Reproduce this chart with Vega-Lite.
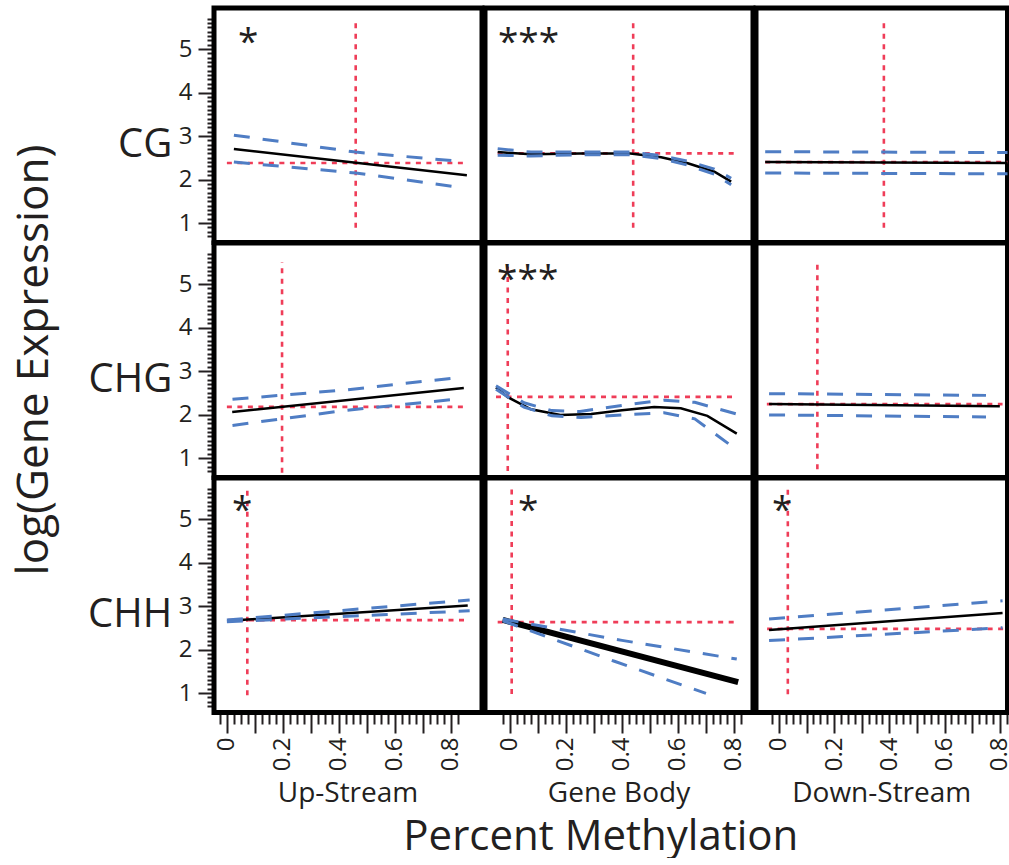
{
  "$schema": "https://vega.github.io/schema/vega-lite/v6.json",
  "padding": {"left": 12, "top": 5, "right": 0, "bottom": 0},
  "autosize": {"type": "pad"},
  "background": "white",
  "config": {
    "font": "Open Sans",
    "view": {"stroke": "black", "strokeWidth": 5},
    "facet": {"spacing": 0},
    "header": {"labelColor": "#231f20", "titleColor": "#231f20", "labelFont": "Open Sans", "titleFont": "Open Sans"},
    "axis": {"labelColor": "#231f20", "tickColor": "#231f20", "labelFont": "Open Sans", "grid": false}
  },
  "title": {"text": "Percent Methylation", "orient": "bottom", "anchor": "middle", "fontSize": 42, "fontWeight": "normal", "font": "Open Sans", "color": "#231f20", "offset": 9, "dx": 85},
  "spacing": -5,
  "datasets": {
    "d": [
      {"region": "Up-Stream", "ctx": "CG", "kind": "fit", "series": "fit", "x": 0.025, "y": 2.70},
      {"region": "Up-Stream", "ctx": "CG", "kind": "fit", "series": "fit", "x": 0.857, "y": 2.10},
      {"region": "Up-Stream", "ctx": "CG", "kind": "ci", "series": "upper", "x": 0.025, "y": 3.02},
      {"region": "Up-Stream", "ctx": "CG", "kind": "ci", "series": "upper", "x": 0.46, "y": 2.63},
      {"region": "Up-Stream", "ctx": "CG", "kind": "ci", "series": "upper", "x": 0.81, "y": 2.43},
      {"region": "Up-Stream", "ctx": "CG", "kind": "ci", "series": "lower", "x": 0.025, "y": 2.40},
      {"region": "Up-Stream", "ctx": "CG", "kind": "ci", "series": "lower", "x": 0.46, "y": 2.15},
      {"region": "Up-Stream", "ctx": "CG", "kind": "ci", "series": "lower", "x": 0.81, "y": 1.84},
      {"region": "Up-Stream", "ctx": "CG", "kind": "mean", "series": "h", "x": 0.0, "y": 2.38},
      {"region": "Up-Stream", "ctx": "CG", "kind": "mean", "series": "h", "x": 0.86, "y": 2.38},
      {"region": "Up-Stream", "ctx": "CG", "kind": "mean", "series": "v", "x": 0.46, "y": 0.89},
      {"region": "Up-Stream", "ctx": "CG", "kind": "mean", "series": "v", "x": 0.46, "y": 5.64},
      {"region": "Up-Stream", "ctx": "CG", "kind": "star", "series": "star", "x": 0.04, "y": 5.28, "label": "*"},

      {"region": "Gene Body", "ctx": "CG", "kind": "fit", "series": "fit", "x": -0.044, "y": 2.63},
      {"region": "Gene Body", "ctx": "CG", "kind": "fit", "series": "fit", "x": 0.075, "y": 2.58},
      {"region": "Gene Body", "ctx": "CG", "kind": "fit", "series": "fit", "x": 0.25, "y": 2.60},
      {"region": "Gene Body", "ctx": "CG", "kind": "fit", "series": "fit", "x": 0.43, "y": 2.60},
      {"region": "Gene Body", "ctx": "CG", "kind": "fit", "series": "fit", "x": 0.54, "y": 2.51},
      {"region": "Gene Body", "ctx": "CG", "kind": "fit", "series": "fit", "x": 0.635, "y": 2.375},
      {"region": "Gene Body", "ctx": "CG", "kind": "fit", "series": "fit", "x": 0.73, "y": 2.18},
      {"region": "Gene Body", "ctx": "CG", "kind": "fit", "series": "fit", "x": 0.79, "y": 1.95},
      {"region": "Gene Body", "ctx": "CG", "kind": "ci", "series": "upper", "x": -0.044, "y": 2.71},
      {"region": "Gene Body", "ctx": "CG", "kind": "ci", "series": "upper", "x": 0.075, "y": 2.63},
      {"region": "Gene Body", "ctx": "CG", "kind": "ci", "series": "upper", "x": 0.25, "y": 2.63},
      {"region": "Gene Body", "ctx": "CG", "kind": "ci", "series": "upper", "x": 0.43, "y": 2.63},
      {"region": "Gene Body", "ctx": "CG", "kind": "ci", "series": "upper", "x": 0.54, "y": 2.55},
      {"region": "Gene Body", "ctx": "CG", "kind": "ci", "series": "upper", "x": 0.635, "y": 2.42},
      {"region": "Gene Body", "ctx": "CG", "kind": "ci", "series": "upper", "x": 0.73, "y": 2.24},
      {"region": "Gene Body", "ctx": "CG", "kind": "ci", "series": "upper", "x": 0.79, "y": 2.03},
      {"region": "Gene Body", "ctx": "CG", "kind": "ci", "series": "lower", "x": -0.044, "y": 2.56},
      {"region": "Gene Body", "ctx": "CG", "kind": "ci", "series": "lower", "x": 0.075, "y": 2.54},
      {"region": "Gene Body", "ctx": "CG", "kind": "ci", "series": "lower", "x": 0.25, "y": 2.57},
      {"region": "Gene Body", "ctx": "CG", "kind": "ci", "series": "lower", "x": 0.43, "y": 2.57},
      {"region": "Gene Body", "ctx": "CG", "kind": "ci", "series": "lower", "x": 0.54, "y": 2.48},
      {"region": "Gene Body", "ctx": "CG", "kind": "ci", "series": "lower", "x": 0.635, "y": 2.33},
      {"region": "Gene Body", "ctx": "CG", "kind": "ci", "series": "lower", "x": 0.73, "y": 2.12},
      {"region": "Gene Body", "ctx": "CG", "kind": "ci", "series": "lower", "x": 0.79, "y": 1.88},
      {"region": "Gene Body", "ctx": "CG", "kind": "mean", "series": "h", "x": -0.044, "y": 2.60},
      {"region": "Gene Body", "ctx": "CG", "kind": "mean", "series": "h", "x": 0.80, "y": 2.60},
      {"region": "Gene Body", "ctx": "CG", "kind": "mean", "series": "v", "x": 0.44, "y": 0.89},
      {"region": "Gene Body", "ctx": "CG", "kind": "mean", "series": "v", "x": 0.44, "y": 5.65},
      {"region": "Gene Body", "ctx": "CG", "kind": "star", "series": "star", "x": -0.043, "y": 5.28, "label": "***"},

      {"region": "Down-Stream", "ctx": "CG", "kind": "fit", "series": "fit", "x": -0.05, "y": 2.40},
      {"region": "Down-Stream", "ctx": "CG", "kind": "fit", "series": "fit", "x": 0.83, "y": 2.38},
      {"region": "Down-Stream", "ctx": "CG", "kind": "ci", "series": "upper", "x": -0.05, "y": 2.64},
      {"region": "Down-Stream", "ctx": "CG", "kind": "ci", "series": "upper", "x": 0.83, "y": 2.62},
      {"region": "Down-Stream", "ctx": "CG", "kind": "ci", "series": "lower", "x": -0.05, "y": 2.15},
      {"region": "Down-Stream", "ctx": "CG", "kind": "ci", "series": "lower", "x": 0.83, "y": 2.13},
      {"region": "Down-Stream", "ctx": "CG", "kind": "mean", "series": "h", "x": -0.05, "y": 2.40},
      {"region": "Down-Stream", "ctx": "CG", "kind": "mean", "series": "h", "x": 0.83, "y": 2.40},
      {"region": "Down-Stream", "ctx": "CG", "kind": "mean", "series": "v", "x": 0.38, "y": 0.89},
      {"region": "Down-Stream", "ctx": "CG", "kind": "mean", "series": "v", "x": 0.38, "y": 5.65},

      {"region": "Up-Stream", "ctx": "CHG", "kind": "fit", "series": "fit", "x": 0.019, "y": 2.06},
      {"region": "Up-Stream", "ctx": "CHG", "kind": "fit", "series": "fit", "x": 0.846, "y": 2.61},
      {"region": "Up-Stream", "ctx": "CHG", "kind": "ci", "series": "upper", "x": 0.02, "y": 2.35},
      {"region": "Up-Stream", "ctx": "CHG", "kind": "ci", "series": "upper", "x": 0.43, "y": 2.57},
      {"region": "Up-Stream", "ctx": "CHG", "kind": "ci", "series": "upper", "x": 0.80, "y": 2.83},
      {"region": "Up-Stream", "ctx": "CHG", "kind": "ci", "series": "lower", "x": 0.02, "y": 1.75},
      {"region": "Up-Stream", "ctx": "CHG", "kind": "ci", "series": "lower", "x": 0.43, "y": 2.10},
      {"region": "Up-Stream", "ctx": "CHG", "kind": "ci", "series": "lower", "x": 0.80, "y": 2.34},
      {"region": "Up-Stream", "ctx": "CHG", "kind": "mean", "series": "h", "x": 0.0, "y": 2.175},
      {"region": "Up-Stream", "ctx": "CHG", "kind": "mean", "series": "h", "x": 0.86, "y": 2.175},
      {"region": "Up-Stream", "ctx": "CHG", "kind": "mean", "series": "v", "x": 0.197, "y": 0.66},
      {"region": "Up-Stream", "ctx": "CHG", "kind": "mean", "series": "v", "x": 0.197, "y": 5.50},

      {"region": "Gene Body", "ctx": "CHG", "kind": "fit", "series": "fit", "x": -0.05, "y": 2.62},
      {"region": "Gene Body", "ctx": "CHG", "kind": "fit", "series": "fit", "x": -0.008, "y": 2.40},
      {"region": "Gene Body", "ctx": "CHG", "kind": "fit", "series": "fit", "x": 0.075, "y": 2.12},
      {"region": "Gene Body", "ctx": "CHG", "kind": "fit", "series": "fit", "x": 0.18, "y": 1.99},
      {"region": "Gene Body", "ctx": "CHG", "kind": "fit", "series": "fit", "x": 0.29, "y": 2.01},
      {"region": "Gene Body", "ctx": "CHG", "kind": "fit", "series": "fit", "x": 0.40, "y": 2.10},
      {"region": "Gene Body", "ctx": "CHG", "kind": "fit", "series": "fit", "x": 0.515, "y": 2.175},
      {"region": "Gene Body", "ctx": "CHG", "kind": "fit", "series": "fit", "x": 0.61, "y": 2.145},
      {"region": "Gene Body", "ctx": "CHG", "kind": "fit", "series": "fit", "x": 0.705, "y": 1.97},
      {"region": "Gene Body", "ctx": "CHG", "kind": "fit", "series": "fit", "x": 0.81, "y": 1.56},
      {"region": "Gene Body", "ctx": "CHG", "kind": "ci", "series": "upper", "x": -0.05, "y": 2.66},
      {"region": "Gene Body", "ctx": "CHG", "kind": "ci", "series": "upper", "x": 0.05, "y": 2.27},
      {"region": "Gene Body", "ctx": "CHG", "kind": "ci", "series": "upper", "x": 0.15, "y": 2.09},
      {"region": "Gene Body", "ctx": "CHG", "kind": "ci", "series": "upper", "x": 0.25, "y": 2.07},
      {"region": "Gene Body", "ctx": "CHG", "kind": "ci", "series": "upper", "x": 0.40, "y": 2.21},
      {"region": "Gene Body", "ctx": "CHG", "kind": "ci", "series": "upper", "x": 0.55, "y": 2.33},
      {"region": "Gene Body", "ctx": "CHG", "kind": "ci", "series": "upper", "x": 0.66, "y": 2.28},
      {"region": "Gene Body", "ctx": "CHG", "kind": "ci", "series": "upper", "x": 0.81, "y": 2.01},
      {"region": "Gene Body", "ctx": "CHG", "kind": "ci", "series": "lower", "x": -0.05, "y": 2.58},
      {"region": "Gene Body", "ctx": "CHG", "kind": "ci", "series": "lower", "x": 0.05, "y": 2.17},
      {"region": "Gene Body", "ctx": "CHG", "kind": "ci", "series": "lower", "x": 0.15, "y": 1.97},
      {"region": "Gene Body", "ctx": "CHG", "kind": "ci", "series": "lower", "x": 0.254, "y": 1.93},
      {"region": "Gene Body", "ctx": "CHG", "kind": "ci", "series": "lower", "x": 0.40, "y": 1.99},
      {"region": "Gene Body", "ctx": "CHG", "kind": "ci", "series": "lower", "x": 0.55, "y": 2.04},
      {"region": "Gene Body", "ctx": "CHG", "kind": "ci", "series": "lower", "x": 0.66, "y": 1.90},
      {"region": "Gene Body", "ctx": "CHG", "kind": "ci", "series": "lower", "x": 0.78, "y": 1.33},
      {"region": "Gene Body", "ctx": "CHG", "kind": "mean", "series": "h", "x": -0.05, "y": 2.405},
      {"region": "Gene Body", "ctx": "CHG", "kind": "mean", "series": "h", "x": 0.81, "y": 2.405},
      {"region": "Gene Body", "ctx": "CHG", "kind": "mean", "series": "v", "x": -0.008, "y": 0.70},
      {"region": "Gene Body", "ctx": "CHG", "kind": "mean", "series": "v", "x": -0.008, "y": 5.50},
      {"region": "Gene Body", "ctx": "CHG", "kind": "star", "series": "star", "x": -0.046, "y": 5.23, "label": "***"},

      {"region": "Down-Stream", "ctx": "CHG", "kind": "fit", "series": "fit", "x": -0.036, "y": 2.24},
      {"region": "Down-Stream", "ctx": "CHG", "kind": "fit", "series": "fit", "x": 0.80, "y": 2.19},
      {"region": "Down-Stream", "ctx": "CHG", "kind": "ci", "series": "upper", "x": -0.036, "y": 2.48},
      {"region": "Down-Stream", "ctx": "CHG", "kind": "ci", "series": "upper", "x": 0.75, "y": 2.44},
      {"region": "Down-Stream", "ctx": "CHG", "kind": "ci", "series": "lower", "x": -0.036, "y": 1.99},
      {"region": "Down-Stream", "ctx": "CHG", "kind": "ci", "series": "lower", "x": 0.75, "y": 1.945},
      {"region": "Down-Stream", "ctx": "CHG", "kind": "mean", "series": "h", "x": -0.044, "y": 2.24},
      {"region": "Down-Stream", "ctx": "CHG", "kind": "mean", "series": "h", "x": 0.81, "y": 2.24},
      {"region": "Down-Stream", "ctx": "CHG", "kind": "mean", "series": "v", "x": 0.139, "y": 0.74},
      {"region": "Down-Stream", "ctx": "CHG", "kind": "mean", "series": "v", "x": 0.139, "y": 5.50},

      {"region": "Up-Stream", "ctx": "CHH", "kind": "fit", "series": "fit", "x": 0.004, "y": 2.66},
      {"region": "Up-Stream", "ctx": "CHH", "kind": "fit", "series": "fit", "x": 0.86, "y": 3.01},
      {"region": "Up-Stream", "ctx": "CHH", "kind": "ci", "series": "upper", "x": 0.0, "y": 2.68},
      {"region": "Up-Stream", "ctx": "CHH", "kind": "ci", "series": "upper", "x": 0.867, "y": 3.14},
      {"region": "Up-Stream", "ctx": "CHH", "kind": "ci", "series": "lower", "x": 0.0, "y": 2.64},
      {"region": "Up-Stream", "ctx": "CHH", "kind": "ci", "series": "lower", "x": 0.867, "y": 2.89},
      {"region": "Up-Stream", "ctx": "CHH", "kind": "mean", "series": "h", "x": 0.004, "y": 2.675},
      {"region": "Up-Stream", "ctx": "CHH", "kind": "mean", "series": "h", "x": 0.86, "y": 2.675},
      {"region": "Up-Stream", "ctx": "CHH", "kind": "mean", "series": "v", "x": 0.073, "y": 0.95},
      {"region": "Up-Stream", "ctx": "CHH", "kind": "mean", "series": "v", "x": 0.073, "y": 5.75},
      {"region": "Up-Stream", "ctx": "CHH", "kind": "star", "series": "star", "x": 0.018, "y": 5.32, "label": "*"},

      {"region": "Gene Body", "ctx": "CHH", "kind": "fit", "series": "fit", "x": -0.026, "y": 2.68},
      {"region": "Gene Body", "ctx": "CHH", "kind": "fit", "series": "fit", "x": 0.815, "y": 1.25},
      {"region": "Gene Body", "ctx": "CHH", "kind": "ci", "series": "upper", "x": -0.026, "y": 2.70},
      {"region": "Gene Body", "ctx": "CHH", "kind": "ci", "series": "upper", "x": 0.40, "y": 2.21},
      {"region": "Gene Body", "ctx": "CHH", "kind": "ci", "series": "upper", "x": 0.81, "y": 1.78},
      {"region": "Gene Body", "ctx": "CHH", "kind": "ci", "series": "lower", "x": -0.026, "y": 2.66},
      {"region": "Gene Body", "ctx": "CHH", "kind": "ci", "series": "lower", "x": 0.373, "y": 1.73},
      {"region": "Gene Body", "ctx": "CHH", "kind": "ci", "series": "lower", "x": 0.70, "y": 0.99},
      {"region": "Gene Body", "ctx": "CHH", "kind": "mean", "series": "h", "x": -0.044, "y": 2.63},
      {"region": "Gene Body", "ctx": "CHH", "kind": "mean", "series": "h", "x": 0.81, "y": 2.63},
      {"region": "Gene Body", "ctx": "CHH", "kind": "mean", "series": "v", "x": 0.006, "y": 0.98},
      {"region": "Gene Body", "ctx": "CHH", "kind": "mean", "series": "v", "x": 0.006, "y": 5.75},
      {"region": "Gene Body", "ctx": "CHH", "kind": "star", "series": "star", "x": 0.029, "y": 5.33, "label": "*"},

      {"region": "Down-Stream", "ctx": "CHH", "kind": "fit", "series": "fit", "x": -0.036, "y": 2.45},
      {"region": "Down-Stream", "ctx": "CHH", "kind": "fit", "series": "fit", "x": 0.81, "y": 2.84},
      {"region": "Down-Stream", "ctx": "CHH", "kind": "ci", "series": "upper", "x": -0.036, "y": 2.70},
      {"region": "Down-Stream", "ctx": "CHH", "kind": "ci", "series": "upper", "x": 0.81, "y": 3.12},
      {"region": "Down-Stream", "ctx": "CHH", "kind": "ci", "series": "lower", "x": -0.036, "y": 2.205},
      {"region": "Down-Stream", "ctx": "CHH", "kind": "ci", "series": "lower", "x": 0.81, "y": 2.50},
      {"region": "Down-Stream", "ctx": "CHH", "kind": "mean", "series": "h", "x": -0.043, "y": 2.475},
      {"region": "Down-Stream", "ctx": "CHH", "kind": "mean", "series": "h", "x": 0.815, "y": 2.475},
      {"region": "Down-Stream", "ctx": "CHH", "kind": "mean", "series": "v", "x": 0.032, "y": 0.97},
      {"region": "Down-Stream", "ctx": "CHH", "kind": "mean", "series": "v", "x": 0.032, "y": 5.75},
      {"region": "Down-Stream", "ctx": "CHH", "kind": "star", "series": "star", "x": -0.025, "y": 5.33, "label": "*"}
    ]
  },
  "hconcat": [
    {
      "data": {"name": "d"},
      "transform": [{"filter": "datum.region === 'Up-Stream'"}],
      "bounds": "flush",
      "facet": {
        "row": {"field": "ctx", "type": "nominal", "sort": ["CG", "CHG", "CHH"], "title": "log(Gene Expression)",
          "header": {"labelAngle": 0, "labelOrient": "left", "labelAlign": "left", "labelBaseline": "top", "labelFontSize": 40, "labelPadding": 6, "titleOrient": "left", "titleFontSize": 44, "titleFontWeight": "normal", "titlePadding": 21}},
        "column": {"field": "region", "type": "nominal", "title": null,
          "header": {"labelOrient": "bottom", "labelFontSize": 28, "labelPadding": 9}}
      },
      "spec": {
        "width": 268, "height": 234.5,
        "encoding": {
          "x": {"field": "x", "type": "quantitative", "scale": {"domain": [-0.046, 0.911], "nice": false, "zero": false},
            "axis": {"title": null, "domain": false, "values": [-0.025,0,0.025,0.05,0.075,0.1,0.125,0.15,0.175,0.2,0.225,0.25,0.275,0.3,0.325,0.35,0.375,0.4,0.425,0.45,0.475,0.5,0.525,0.55,0.575,0.6,0.625,0.65,0.675,0.7,0.725,0.75,0.775,0.8,0.825],
              "tickSize": {"condition": {"test": "abs(datum.value*10 - round(datum.value*10)) < 0.001", "value": 20}, "value": 11},
              "tickWidth": 2, "labelAngle": 270, "labelFontSize": 24, "labelPadding": 4, "labelFlush": false, "labelOverlap": false, "labelBound": false,
              "labelExpr": "abs(datum.value*5 - round(datum.value*5)) < 0.001 ? format(datum.value, '.1~f') : ''"}},
          "y": {"field": "y", "type": "quantitative", "scale": {"domain": [0.552, 5.943], "nice": false, "zero": false},
            "axis": {"title": null, "domain": false, "values": [0.7,0.8,0.9,1,1.1,1.2,1.3,1.4,1.5,1.6,1.7,1.8,1.9,2,2.1,2.2,2.3,2.4,2.5,2.6,2.7,2.8,2.9,3,3.1,3.2,3.3,3.4,3.5,3.6,3.7,3.8,3.9,4,4.1,4.2,4.3,4.4,4.5,4.6,4.7,4.8,4.9,5,5.1,5.2,5.3,5.4,5.5,5.6,5.7],
              "tickSize": {"condition": {"test": "datum.value % 1 === 0", "value": 16}, "value": 7},
              "tickWidth": 2, "labelFontSize": 24, "labelPadding": 6, "labelFlush": false, "labelOverlap": false, "labelBound": false,
              "labelExpr": "datum.value % 1 === 0 ? format(datum.value, 'd') : ''"}}
        },
        "layer": [
          {"transform": [{"filter": "datum.kind === 'mean'"}], "mark": {"type": "line", "color": "#ef3d58", "strokeWidth": 2.6, "strokeDash": [5, 5.5], "clip": true}, "encoding": {"detail": {"field": "series"}}},
          {"transform": [{"filter": "datum.kind === 'fit'"}], "mark": {"type": "line", "color": "black", "strokeWidth": 2.5, "clip": true}, "encoding": {"detail": {"field": "series"}}},
          {"transform": [{"filter": "datum.kind === 'ci'"}], "mark": {"type": "line", "color": "#4f7dc4", "strokeWidth": 3, "strokeDash": [16, 13], "clip": true}, "encoding": {"detail": {"field": "series"}}},
          {"transform": [{"filter": "datum.kind === 'star'"}], "mark": {"type": "text", "align": "left", "baseline": "middle", "fontSize": 37, "color": "#231f20", "dy": 6}, "encoding": {"text": {"field": "label"}}}
        ]
      }
    },
    {
      "data": {"name": "d"},
      "transform": [{"filter": "datum.region === 'Gene Body'"}],
      "bounds": "flush",
      "facet": {
        "row": {"field": "ctx", "type": "nominal", "sort": ["CG", "CHG", "CHH"], "title": null, "header": {"labels": false}},
        "column": {"field": "region", "type": "nominal", "title": null,
          "header": {"labelOrient": "bottom", "labelFontSize": 28, "labelPadding": 9}}
      },
      "spec": {
        "width": 268, "height": 234.5,
        "encoding": {
          "x": {"field": "x", "type": "quantitative", "scale": {"domain": [-0.0893, 0.868], "nice": false, "zero": false},
            "axis": {"title": null, "domain": false, "values": [-0.025,0,0.025,0.05,0.075,0.1,0.125,0.15,0.175,0.2,0.225,0.25,0.275,0.3,0.325,0.35,0.375,0.4,0.425,0.45,0.475,0.5,0.525,0.55,0.575,0.6,0.625,0.65,0.675,0.7,0.725,0.75,0.775,0.8,0.825],
              "tickSize": {"condition": {"test": "abs(datum.value*10 - round(datum.value*10)) < 0.001", "value": 20}, "value": 11},
              "tickWidth": 2, "labelAngle": 270, "labelFontSize": 24, "labelPadding": 4, "labelFlush": false, "labelOverlap": false, "labelBound": false,
              "labelExpr": "abs(datum.value*5 - round(datum.value*5)) < 0.001 ? format(datum.value, '.1~f') : ''"}},
          "y": {"field": "y", "type": "quantitative", "scale": {"domain": [0.552, 5.943], "nice": false, "zero": false}, "axis": null}
        },
        "layer": [
          {"transform": [{"filter": "datum.kind === 'mean'"}], "mark": {"type": "line", "color": "#ef3d58", "strokeWidth": 2.6, "strokeDash": [5, 5.5], "clip": true}, "encoding": {"detail": {"field": "series"}}},
          {"transform": [{"filter": "datum.kind === 'fit'"}], "mark": {"type": "line", "color": "black", "clip": true}, "encoding": {"detail": {"field": "series"}, "strokeWidth": {"condition": {"test": "datum.ctx === 'CHH'", "value": 6}, "value": 2.5}}},
          {"transform": [{"filter": "datum.kind === 'ci'"}], "mark": {"type": "line", "color": "#4f7dc4", "strokeWidth": 3, "strokeDash": [16, 13], "clip": true}, "encoding": {"detail": {"field": "series"}}},
          {"transform": [{"filter": "datum.kind === 'star'"}], "mark": {"type": "text", "align": "left", "baseline": "middle", "fontSize": 37, "color": "#231f20", "dy": 6}, "encoding": {"text": {"field": "label"}}}
        ]
      }
    },
    {
      "data": {"name": "d"},
      "transform": [{"filter": "datum.region === 'Down-Stream'"}],
      "bounds": "flush",
      "facet": {
        "row": {"field": "ctx", "type": "nominal", "sort": ["CG", "CHG", "CHH"], "title": null, "header": {"labels": false}},
        "column": {"field": "region", "type": "nominal", "title": null,
          "header": {"labelOrient": "bottom", "labelFontSize": 28, "labelPadding": 9}}
      },
      "spec": {
        "width": 251.5, "height": 234.5,
        "encoding": {
          "x": {"field": "x", "type": "quantitative", "scale": {"domain": [-0.0833, 0.8279], "nice": false, "zero": false},
            "axis": {"title": null, "domain": false, "values": [-0.025,0,0.025,0.05,0.075,0.1,0.125,0.15,0.175,0.2,0.225,0.25,0.275,0.3,0.325,0.35,0.375,0.4,0.425,0.45,0.475,0.5,0.525,0.55,0.575,0.6,0.625,0.65,0.675,0.7,0.725,0.75,0.775,0.8,0.825],
              "tickSize": {"condition": {"test": "abs(datum.value*10 - round(datum.value*10)) < 0.001", "value": 20}, "value": 11},
              "tickWidth": 2, "labelAngle": 270, "labelFontSize": 24, "labelPadding": 4, "labelFlush": false, "labelOverlap": false, "labelBound": false,
              "labelExpr": "abs(datum.value*5 - round(datum.value*5)) < 0.001 ? format(datum.value, '.1~f') : ''"}},
          "y": {"field": "y", "type": "quantitative", "scale": {"domain": [0.552, 5.943], "nice": false, "zero": false}, "axis": null}
        },
        "layer": [
          {"transform": [{"filter": "datum.kind === 'mean'"}], "mark": {"type": "line", "color": "#ef3d58", "strokeWidth": 2.6, "strokeDash": [5, 5.5], "clip": true}, "encoding": {"detail": {"field": "series"}}},
          {"transform": [{"filter": "datum.kind === 'fit'"}], "mark": {"type": "line", "color": "black", "strokeWidth": 2.5, "clip": true}, "encoding": {"detail": {"field": "series"}}},
          {"transform": [{"filter": "datum.kind === 'ci'"}], "mark": {"type": "line", "color": "#4f7dc4", "strokeWidth": 3, "strokeDash": [16, 13], "clip": true}, "encoding": {"detail": {"field": "series"}}},
          {"transform": [{"filter": "datum.kind === 'star'"}], "mark": {"type": "text", "align": "left", "baseline": "middle", "fontSize": 37, "color": "#231f20", "dy": 6}, "encoding": {"text": {"field": "label"}}}
        ]
      }
    }
  ]
}
